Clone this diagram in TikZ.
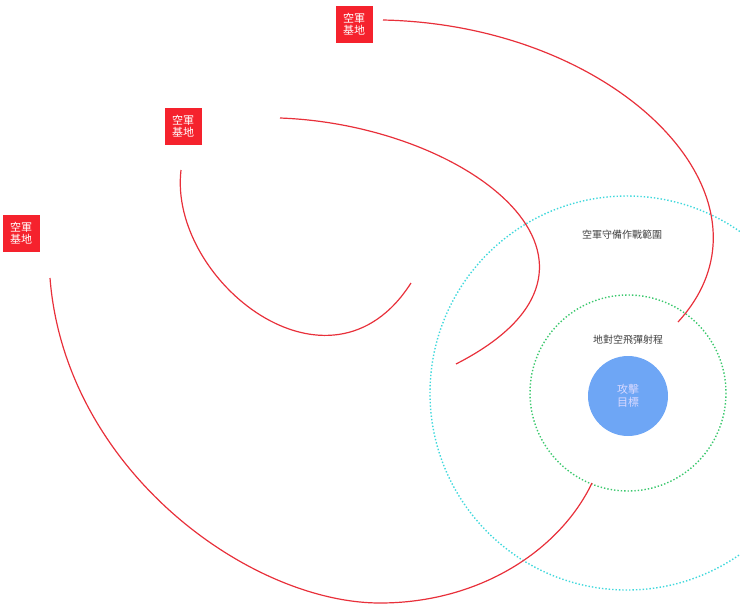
\documentclass[tikz,border=0pt]{standalone}
\usepackage{fontspec}
\newfontfamily\cjk{Noto Sans CJK TC}
\definecolor{arcred}{HTML}{E8303A}
\definecolor{boxred}{HTML}{F5222D}
\definecolor{tgtblue}{HTML}{6EA6F5}
\definecolor{cyanring}{HTML}{3FD8DC}
\definecolor{greenring}{HTML}{3CC86E}
\begin{document}
\begin{tikzpicture}[x=1pt,y=-1pt,
  base/.style={fill=boxred,text=white,font=\cjk\fontsize{11}{12}\selectfont,align=center,minimum width=37pt,minimum height=37pt,inner sep=1pt},
  arc/.style={draw=arcred,line width=1.2pt},
  lbl/.style={font=\cjk\fontsize{10}{12}\selectfont,text=black!75}]
\useasboundingbox (0,0) rectangle (740,611);
\clip (0,0) rectangle (740,611);
\draw[cyanring,dotted,line width=1.4pt] (627,393) circle (197);
\draw[greenring,dotted,line width=1.4pt] (628,393) circle (98);
\node[circle,fill=tgtblue,minimum size=80pt,text=white!85!blue,font=\cjk\fontsize{11}{13}\selectfont,align=center] (tgt) at (628,396) {攻擊\\目標};
\node[lbl] (r1) at (622,235) {空軍守備作戰範圍};
\node[lbl] (r2) at (628,340) {地對空飛彈射程};
\node[base] (b1) at (354,24) {空軍\\基地};
\node[base] (b2) at (183,126) {空軍\\基地};
\node[base] (b3) at (21,233) {空軍\\基地};
\coordinate (a1s) at (383,20); \coordinate (a1e) at (678,322);
\coordinate (a2s) at (280,118); \coordinate (a2e) at (456,364);
\coordinate (a3s) at (181,170); \coordinate (a3e) at (411,283);
\coordinate (a4s) at (50,278); \coordinate (a4m) at (380,603); \coordinate (a4e) at (592,483);
\draw[arc] (a1s) .. controls (620,25) and (790,200) .. (a1e);
\draw[arc] (a2s) .. controls (470,125) and (650,265) .. (a2e);
\draw[arc] (a3s) .. controls (168,280) and (330,410) .. (a3e);
\draw[arc] (a4s) .. controls (65,470) and (250,603) .. (a4m) .. controls (480,603) and (560,550) .. (a4e);
\end{tikzpicture}
\end{document}
